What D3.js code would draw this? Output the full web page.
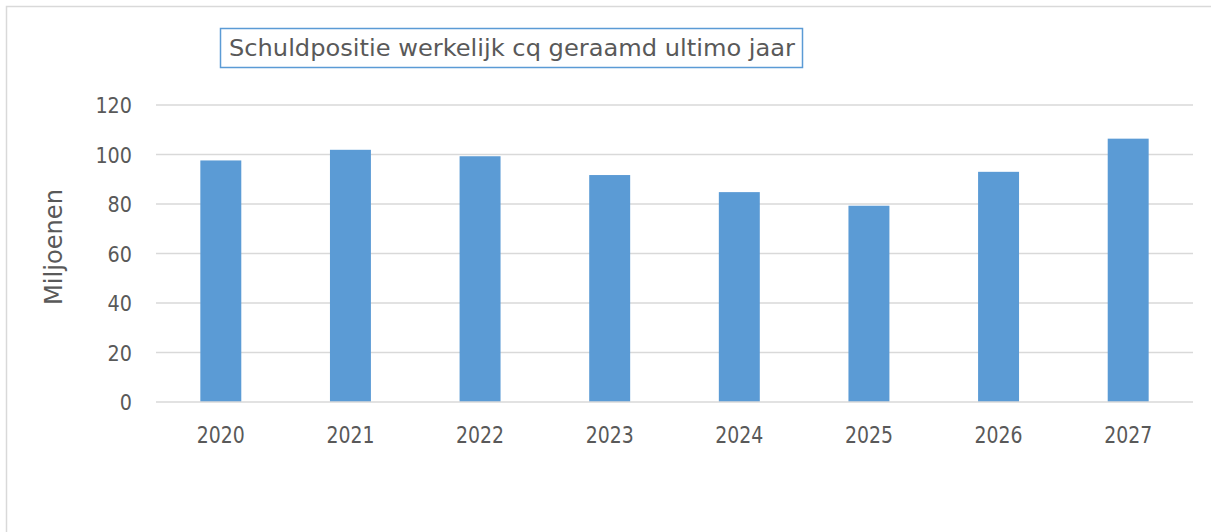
<!DOCTYPE html>
<html>
<head>
<meta charset="utf-8">
<script src="https://cdn.jsdelivr.net/npm/d3@7"></script>
<style>
  html, body { margin: 0; padding: 0; background: #fff; }
  svg { display: block; }
</style>
</head>
<body>
<svg id="chart" width="1211" height="532"></svg>
<script>
const categories = ["2020", "2021", "2022", "2023", "2024", "2025", "2026", "2027"];
const values = [97.6, 101.9, 99.3, 91.7, 84.8, 79.3, 93.0, 106.4];
const yTicks = [0, 20, 40, 60, 80, 100, 120];
const titleText = "Schuldpositie werkelijk cq geraamd ultimo jaar";
const yAxisLabel = "Miljoenen";

const svg = d3.select("#chart");
const W = 1211, H = 532;
const font = "'DejaVu Sans', Verdana, sans-serif";
const textColor = "#595959";
const gridColor = "#d9d9d9";

// chart border (top & left visible)
svg.append("rect")
  .attr("x", 6.5).attr("y", 6.5)
  .attr("width", W + 20).attr("height", H + 20)
  .attr("fill", "none").attr("stroke", gridColor).attr("stroke-width", 1.5);

const plot = { left: 156, right: 1193, top: 105, bottom: 402 };

const x = d3.scaleBand().domain(categories)
  .range([plot.left, plot.right]).paddingInner(0.684).paddingOuter(0.342);
const y = d3.scaleLinear().domain([0, 120]).range([plot.bottom, plot.top]);

// gridlines
svg.append("g").selectAll("line").data(yTicks.filter(t => t !== 0)).join("line")
  .attr("x1", plot.left).attr("x2", plot.right)
  .attr("y1", d => y(d)).attr("y2", d => y(d))
  .attr("stroke", gridColor).attr("stroke-width", 1.5);

// bars
svg.append("g").selectAll("rect").data(values).join("rect")
  .attr("x", (d, i) => x(categories[i]))
  .attr("width", x.bandwidth())
  .attr("y", d => y(d))
  .attr("height", d => y(0) - y(d))
  .attr("fill", "#5b9bd5");

// x axis baseline
svg.append("line")
  .attr("x1", plot.left).attr("x2", plot.right)
  .attr("y1", y(0)).attr("y2", y(0))
  .attr("stroke", gridColor).attr("stroke-width", 1.5);

// y axis labels
const yAxis = d3.axisLeft(y).tickValues(yTicks).tickSize(0).tickPadding(0);
const yg = svg.append("g").attr("transform", `translate(132,0)`).call(yAxis);
yg.select(".domain").remove();
yg.selectAll("text")
  .attr("font-family", font).attr("font-size", 21).attr("fill", textColor)
  .attr("dy", null).attr("y", 7.7)
  .attr("textLength", d => String(d).length * 12.2)
  .attr("lengthAdjust", "spacingAndGlyphs");

// x axis labels
const xAxis = d3.axisBottom(x).tickSize(0).tickPadding(0);
const xg = svg.append("g").attr("transform", `translate(0,${y(0)})`).call(xAxis);
xg.select(".domain").remove();
xg.selectAll("text")
  .attr("font-family", font).attr("font-size", 23).attr("fill", textColor)
  .attr("dy", null).attr("y", 41.3)
  .attr("textLength", 48)
  .attr("lengthAdjust", "spacingAndGlyphs");

// y axis title
svg.append("text")
  .attr("transform", `translate(62,247) rotate(-90)`)
  .attr("text-anchor", "middle")
  .attr("font-family", font).attr("font-size", 24).attr("fill", textColor)
  .attr("textLength", 116).attr("lengthAdjust", "spacingAndGlyphs")
  .text(yAxisLabel);

// title box
svg.append("rect")
  .attr("x", 220.5).attr("y", 28.5).attr("width", 582).attr("height", 39)
  .attr("fill", "#fff").attr("stroke", "#5b9bd5").attr("stroke-width", 1.5);
svg.append("text")
  .attr("x", 229).attr("y", 55.7)
  .attr("text-anchor", "start")
  .attr("font-family", font).attr("font-size", 23).attr("fill", textColor)
  .attr("textLength", 566).attr("lengthAdjust", "spacingAndGlyphs")
  .text(titleText);
</script>
</body>
</html>
